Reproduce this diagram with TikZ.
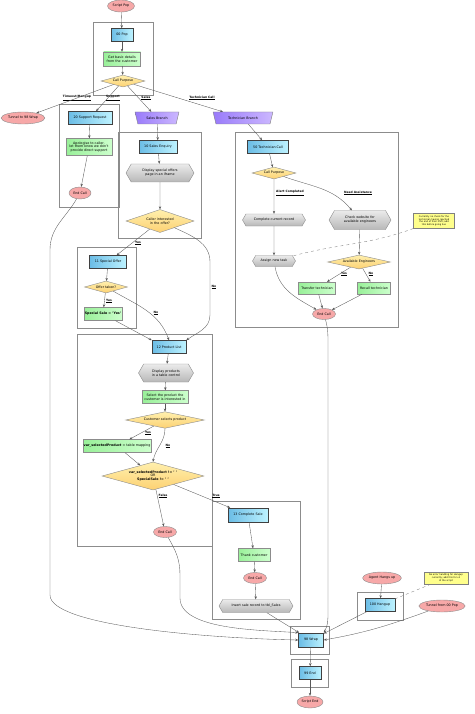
\documentclass[tikz,border=0pt]{standalone}
\usepackage{fontspec}
\setmainfont{DejaVu Sans}
\usetikzlibrary{shapes.geometric,shapes.symbols,arrows.meta}

\definecolor{bluel}{rgb}{0.42,0.74,0.9}
\definecolor{bluer}{rgb}{0.74,0.95,1}
\definecolor{greenl}{rgb}{0.6,0.94,0.6}
\definecolor{greenr}{rgb}{0.8,1,0.8}
\definecolor{pinkf}{rgb}{0.97,0.66,0.66}
\definecolor{yelt}{rgb}{1,0.94,0.68}
\definecolor{yelb}{rgb}{0.99,0.82,0.45}
\definecolor{grayt}{rgb}{0.92,0.92,0.92}
\definecolor{grayb}{rgb}{0.72,0.72,0.72}
\definecolor{purpl}{rgb}{0.6,0.48,0.98}
\definecolor{purpr}{rgb}{0.8,0.72,1}
\definecolor{notef}{rgb}{1,1,0.55}

\begin{document}
\begin{tikzpicture}[x=1pt,y=-1pt,font=\fontsize{3.3}{3.9}\selectfont,
  every node/.style={inner sep=0.5pt},
  blk/.style={rectangle,draw=black!75,line width=0.6pt,left color=bluel,right color=bluer,minimum height=13},
  act/.style={rectangle,draw=black!45,left color=greenl,right color=greenr,minimum height=12,align=center},
  term/.style={ellipse,draw=black!45,fill=pinkf,minimum height=12},
  dec/.style={diamond,draw=black!45,top color=yelt,bottom color=yelb,aspect=3.5,align=center},
  proc/.style={signal,signal to=east and west,signal pointer angle=120,draw=black!45,top color=grayt,bottom color=grayb,align=center},
  brn/.style={trapezium,trapezium stretches=true,shape border rotate=180,trapezium angle=65,draw=black!50,left color=purpl,right color=purpr},
  memo/.style={rectangle,draw=black!50,fill=notef,align=center,font=\fontsize{2.3}{2.7}\selectfont},
  cluster/.style={draw=black!45,line width=0.6pt},
  elab/.style={font=\fontsize{3}{3.6}\selectfont\bfseries},
  flow/.style={draw=black!65,line width=0.35pt,-{Stealth[length=3pt,width=2.4pt]}},
  link/.style={draw=black!50,line width=0.35pt,dashed}
]
\useasboundingbox (0,0) rectangle (474,714);

\draw[cluster] (93,22) rectangle (153,95);
\draw[cluster] (59,104) rectangle (119,207);
\draw[cluster] (118,132) rectangle (201,238);
\draw[cluster] (235,132) rectangle (398,327);
\draw[cluster] (77,247) rectangle (136,328);
\draw[cluster] (77,334) rectangle (212,546);
\draw[cluster] (212,501) rectangle (300,619);
\draw[cluster] (357,592) rectangle (403,620);
\draw[cluster] (290,626) rectangle (329,654);
\draw[cluster] (291,659) rectangle (328,687);

\node[term,minimum width=27] (pop) at (121,6) {Script Pop};
\node[blk,minimum width=22] (p00) at (122,35) {00 Pop};
\node[act,minimum width=37,minimum height=14] (gbd) at (122,59) {Get basic details\\from the customer};
\node[dec,minimum width=44,minimum height=12] (cp) at (123,81) {Call Purpose};
\node[term,minimum width=42] (t98) at (23,118) {Tunnel to 98 Wrap};

\node[blk,minimum width=44] (sup) at (90,118) {20 Support Request};
\node[act,minimum width=46,minimum height=17] (apo) at (89,147) {Apologise to caller,\\let them know we don't\\provide direct support};
\node[term,minimum width=22] (ec1) at (80,193) {End Call};

\node[brn,minimum width=44,minimum height=12] (sb) at (157,118) {Sales Branch};
\node[blk,minimum width=38] (se) at (158,147) {10 Sales Enquiry};
\node[proc,minimum width=68,minimum height=18] (dso) at (160,173) {Display special offers\\page in an iframe};
\node[dec,minimum width=68,minimum height=23] (ci) at (160,221) {Caller interested\\in the offer?};

\node[brn,minimum width=60,minimum height=12] (tb) at (243,118) {Technician Branch};
\node[blk,minimum width=41] (tc) at (268,147) {50 Technician Call};
\node[dec,minimum width=44,minimum height=12] (tcp) at (274,173) {Call Purpose};
\node[proc,minimum width=63,minimum height=12] (ccr) at (274,220) {Complete current record};
\node[proc,minimum width=62,minimum height=19] (cwe) at (360,220) {Check website for\\available engineers};
\node[memo,minimum width=41,minimum height=15] (n1) at (434,221) {Currently no check for the\\technician having reached\\the end of their shift; add\\this before going live};
\node[proc,minimum width=43,minimum height=11] (ant) at (274,261) {Assign new task};
\node[dec,minimum width=63,minimum height=14] (ae) at (359,262) {Available Engineers};
\node[act,minimum width=37] (tt) at (317,288) {Transfer technician};
\node[act,minimum width=33] (rt) at (374,288) {Recall technician};
\node[term,minimum width=23,minimum height=11] (ec2) at (324,314) {End Call};

\node[blk,minimum width=37] (so) at (108,262) {11 Special Offer};
\node[dec,minimum width=43,minimum height=12] (ot) at (106,287) {Offer taken?};
\node[act,minimum width=38,minimum height=13] (ss) at (103,314) {\bfseries Special Sale = 'Yes'};

\node[blk,minimum width=34] (pl) at (169,347) {12 Product List};
\node[proc,minimum width=55,minimum height=18] (dp) at (166,373) {Display products\\in a table control};
\node[act,minimum width=46,minimum height=13] (sp) at (165,397) {Select the product the\\customer is interested in};
\node[dec,minimum width=79,minimum height=12] (csp) at (165,420) {Customer selects product};
\node[act,minimum width=67,minimum height=13] (vsp) at (117,446) {\bfseries var\_selectedProduct\mdseries{} = table mapping};
\node[dec,minimum width=102,minimum height=28] (chk) at (153,476) {\bfseries var\_selectedProduct != ' '\\OR\\\bfseries SpecialSale != ' '};
\node[term,minimum width=23,minimum height=11] (ec3) at (165,532) {End Call};

\node[blk,minimum width=40,minimum height=14] (cs) at (248,515) {13 Complete Sale};
\node[act,minimum width=32,minimum height=13] (tcu) at (254,555) {Thank customer};
\node[term,minimum width=23,minimum height=11] (ec4) at (255,578) {End Call};
\node[proc,minimum width=74,minimum height=13] (isr) at (256,606) {Insert sale record to tbl\_Sales};

\node[term,minimum width=38] (ahu) at (382,578) {Agent Hangs up};
\node[memo,minimum width=44,minimum height=12] (n2) at (446,578) {No error handling for Hangup\\currently; add this for v1\\of the script};
\node[blk,minimum width=30] (hu) at (380,605) {100 Hangup};
\node[term,minimum width=46] (tfp) at (442,606) {Tunnel from 00 Pop};

\node[blk,minimum width=25,minimum height=14] (wr) at (311,640) {98 Wrap};
\node[blk,minimum width=22] (end) at (310,673) {99 End};
\node[term,minimum width=26] (se2) at (310,702) {Script End};

\node[elab] (l1) at (77,98) {\underline{Timeout/Hangup}};
\node[elab] (l2) at (113,98) {\underline{Support}};
\node[elab] (l3) at (146,98) {\underline{Sales}};
\node[elab] (l4) at (202,98) {\underline{Technician Call}};
\node[elab] (l5) at (290,193) {\underline{Alert Completed}};
\node[elab] (l6) at (358,193) {\underline{Need Assistance}};
\node[elab] (l7) at (344,274) {\underline{Yes}};
\node[elab] (l8) at (371,274) {\underline{No}};
\node[elab] (l9) at (138,243) {\underline{Yes}};
\node[elab] (l10) at (214,287) {\underline{No}};
\node[elab] (l11) at (109,301) {\underline{Yes}};
\node[elab] (l12) at (156,313) {\underline{No}};
\node[elab] (l13) at (148,433) {\underline{Yes}};
\node[elab] (l14) at (168,446) {\underline{No}};
\node[elab] (l15) at (163,496) {\underline{False}};
\node[elab] (l16) at (216,496) {\underline{True}};

\draw[flow] (pop) -- (p00);
\draw[flow] (p00) -- (gbd);
\draw[flow] (gbd) -- (cp);
\draw[flow] (cp) -- (t98);
\draw[flow] (cp) -- (sup);
\draw[flow] (cp) -- (sb);
\draw[flow] (cp) -- (tb);
\draw[flow] (sup) -- (apo);
\draw[flow] (apo) -- (ec1);
\draw[flow] (ec1) to[out=240,in=90] (50,250) -- (50,595) .. controls (50,625) and (200,638) .. (wr.west);
\draw[flow] (sb) -- (se);
\draw[flow] (se) -- (dso);
\draw[flow] (dso) -- (ci);
\draw[flow] (ci) -- (so);
\draw[flow] (ci) to[out=-25,in=90] (210,262) -- (210,315) to[out=-90,in=35] (pl.north east);
\draw[flow] (so) -- (ot);
\draw[flow] (ot) -- (ss);
\draw[flow] (ot) to[out=-30,in=110] (pl.north);
\draw[flow] (ss) -- (pl.north west);
\draw[flow] (pl) -- (dp);
\draw[flow] (dp) -- (sp);
\draw[flow] (sp) -- (csp);
\draw[flow] (csp) -- (vsp);
\draw[flow] (csp) to[out=-90,in=80] (chk.north);
\draw[flow] (vsp) -- (chk);
\draw[flow] (chk) -- (ec3);
\draw[flow] (chk) -- (cs);
\draw[flow] (ec3) to[out=-60,in=90] (180,575) -- (180,598) .. controls (180,630) and (260,630) .. (wr.north west);
\draw[flow] (cs) -- (tcu);
\draw[flow] (tcu) -- (ec4);
\draw[flow] (ec4) -- (isr);
\draw[flow] (isr) -- (wr);
\draw[flow] (tb) -- (tc);
\draw[flow] (tc) -- (tcp);
\draw[flow] (tcp) -- (ccr);
\draw[flow] (tcp) to[out=-20,in=130] (cwe);
\draw[flow] (ccr) -- (ant);
\draw[flow] (cwe) -- (ae);
\draw[flow] (ae) -- (tt);
\draw[flow] (ae) -- (rt);
\draw[flow] (ant) to[out=-80,in=150] (ec2);
\draw[flow] (tt) -- (ec2);
\draw[flow] (rt) -- (ec2);
\draw[flow] (ec2) to[out=-75,in=90] (328,345) -- (328,612) to[out=-90,in=60] (wr.north east);
\draw[link] (n1) to[out=200,in=15] (ant);
\draw[flow] (ahu) -- (hu);
\draw[link] (n2) -- (hu);
\draw[flow] (hu) -- (wr);
\draw[flow] (tfp) to[out=200,in=10] (wr.east);
\draw[flow] (wr) -- (end);
\draw[flow] (end) -- (se2);
\end{tikzpicture}
\end{document}
